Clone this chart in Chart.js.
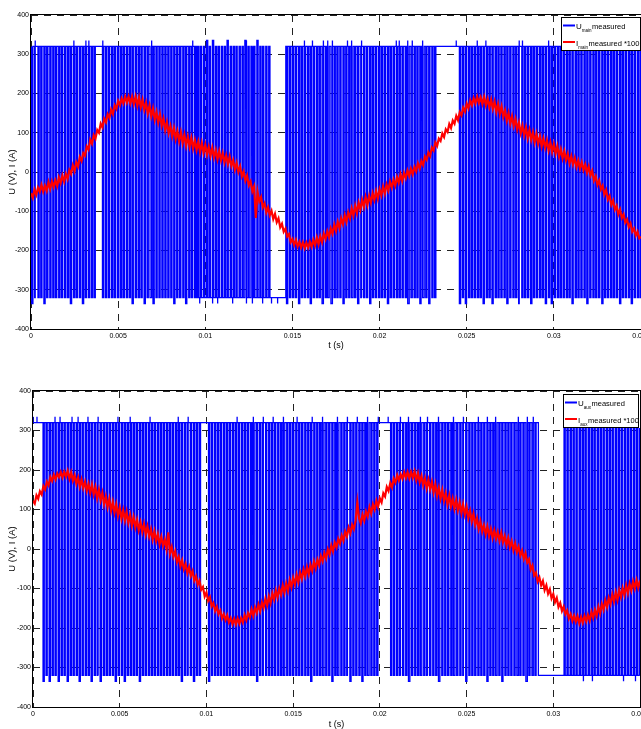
<!DOCTYPE html>
<html>
<head>
<meta charset="utf-8">
<script src="https://cdn.jsdelivr.net/npm/chart.js@4.4.1/dist/chart.umd.min.js"></script>
<style>
  html, body { margin: 0; padding: 0; background: #fff; overflow: hidden; }
  body { width: 641px; height: 729px; position: relative; }
  canvas { position: absolute; left: 0; }
  #mainChart { top: 0; }
  #auxChart { top: 360px; }
</style>
</head>
<body>
<canvas id="mainChart" width="670" height="360"></canvas>
<canvas id="auxChart" width="670" height="380"></canvas>
<script>
// axis ticks
const xTicks = [0, 0.005, 0.01, 0.015, 0.02, 0.025, 0.03, 0.035];
const xTickLabels = ['0', '0.005', '0.01', '0.015', '0.02', '0.025', '0.03', '0.035'];
const yTicks = [-400, -300, -200, -100, 0, 100, 200, 300, 400];
const yTickLabels = ['-400', '-300', '-200', '-100', '0', '100', '200', '300', '400'];

const PULSE_W = 0.07; // ms, width of one switching pulse
const I_STEP = 0.1;   // ms between current samples

// main winding: [start ms, end ms, resting level V, pulse level V]
const mainSegments = [[0, 9.5, 320, -320], [9.5, 14.62, -320, 320], [14.62, 35, 320, -320]];
const mainPulses = [
  0.04, 0.21, 0.40, 0.56, 0.74, 0.90, 1.08, 1.25, 1.41, 1.59, 1.75, 1.93, 2.10, 2.26, 2.44, 2.60, 2.78, 2.95, 3.11, 3.29, 3.46, 3.62,
  4.10, 4.27, 4.44, 4.62, 4.78, 4.96, 5.13, 5.29, 5.47, 5.64, 5.80, 5.98, 6.15, 6.31, 6.49, 6.66, 6.83, 7.00, 7.17, 7.34, 7.51, 7.68,
  7.85, 8.02, 8.19, 8.36, 8.53, 8.71, 8.87, 9.05, 9.21, 9.39, 9.56, 9.72, 9.90, 10.07, 10.23, 10.41, 10.58, 10.74, 10.92, 11.09, 11.25,
  11.43, 11.60, 11.76, 11.94, 12.11, 12.27, 12.45, 12.62, 12.78, 12.96, 13.13, 13.29, 13.47, 13.64,
  14.66, 14.83, 15.00, 15.17, 15.35, 15.51, 15.68, 15.86, 16.02, 16.19, 16.37, 16.53, 16.70, 16.88, 17.04, 17.21, 17.39, 17.55, 17.72,
  17.90, 18.06, 18.23, 18.41, 18.57, 18.74, 18.92, 19.08, 19.25, 19.43, 19.59, 19.76, 19.94, 20.10, 20.27, 20.45, 20.61, 20.78, 20.96,
  21.12, 21.29, 21.47, 21.63, 21.80, 21.98, 22.14, 22.31, 22.49, 22.65, 22.82, 23.00, 23.16,
  24.58, 24.75, 24.92, 25.10, 25.26, 25.43, 25.61, 25.77, 25.94, 26.12, 26.28, 26.45, 26.63, 26.79, 26.96, 27.14, 27.30, 27.47, 27.65,
  27.81, 27.98, 28.16, 28.32, 28.49, 28.67, 28.83, 29.00, 29.18, 29.34, 29.51, 29.69, 29.85, 30.02, 30.20, 30.36, 30.53, 30.71, 30.87,
  31.04, 31.22, 31.38, 31.55, 31.73, 31.89, 32.06, 32.24, 32.40, 32.57, 32.75, 32.91, 33.08, 33.26, 33.42, 33.59, 33.77, 33.93, 34.10,
  34.28, 34.44, 34.61, 34.79, 34.95
];
const mainSpikesUp = [0.23, 2.46, 3.15, 3.32, 4.12, 6.93, 9.28, 10.08, 10.48, 11.28, 12.31, 12.89, 15.69, 16.15, 16.78, 17.01, 17.3,
  18.16, 18.38, 18.96, 20.96, 21.13, 21.6, 21.88, 22.45, 24.4, 25.6, 26.1, 28.0, 28.2, 29.7];
const mainSpikesDown = [0.11, 0.8, 2.23, 2.98, 5.78, 6.41, 6.99, 8.13, 8.93, 9.68, 10.42, 10.71, 11.57, 12.37, 12.71, 13.29, 13.8,
  14.15, 14.66, 15.41, 16.09, 16.72, 17.3, 17.87, 18.67, 19.42, 20.39, 21.59, 22.28, 22.85, 24.57, 24.97, 25.89, 26.46, 27.26, 28.01,
  28.75, 29.55, 29.9, 31.04, 31.84, 32.76, 33.73, 34.48];
// I_main * 100, one value every 0.1 ms from 0 to 35 ms
const mainCurrent = [
  -54, -66, -45, -58, -40, -50, -33, -50, -35, -48, -26, -43, -24, -38, -21, -36, -14, -28, -9, -25,
  -5, -18, 5, -5, 17, 3, 25, 14, 38, 28, 48, 42, 65, 57, 82, 72, 94, 85, 107, 100,
  123, 114, 136, 127, 147, 138, 159, 148, 170, 161, 181, 170, 187, 175, 192, 177, 192, 175, 192, 173,
  192, 169, 190, 165, 184, 158, 176, 149, 169, 142, 162, 133, 153, 126, 147, 118, 136, 107, 127, 99,
  117, 91, 112, 84, 104, 78, 101, 74, 95, 67, 90, 65, 87, 60, 81, 56, 77, 51, 74, 49,
  69, 44, 64, 41, 62, 37, 56, 32, 53, 30, 48, 24, 42, 20, 39, 15, 30, 6, 23, 0,
  14, -11, 1, -22, -9, -34, -24, -49, -37, -117, -51, -75, -64, -90, -80, -103, -90, -110, -99, -120,
  -107, -128, -118, -141, -132, -152, -144, -164, -158, -179, -171, -186, -173, -190, -178, -192, -179, -194, -180, -193,
  -178, -191, -173, -187, -167, -184, -164, -179, -157, -171, -151, -166, -144, -157, -134, -150, -127, -143, -118, -133,
  -110, -127, -103, -118, -93, -111, -86, -105, -78, -96, -71, -89, -64, -84, -61, -78, -54, -71, -49, -68,
  -44, -60, -37, -55, -32, -47, -25, -40, -20, -35, -13, -27, -6, -23, -3, -16, 4, -10, 8, -6,
  13, 2, 22, 9, 28, 18, 39, 31, 50, 41, 62, 55, 75, 66, 85, 79, 98, 89, 109, 102,
  122, 112, 131, 123, 143, 132, 152, 144, 164, 154, 174, 162, 182, 170, 188, 175, 192, 176, 190, 173,
  191, 170, 186, 165, 184, 161, 179, 153, 173, 148, 167, 140, 157, 131, 150, 123, 142, 117, 135, 108,
  126, 99, 118, 93, 113, 86, 107, 82, 101, 75, 97, 72, 91, 65, 85, 62, 81, 55, 75, 51,
  71, 47, 66, 40, 58, 35, 53, 30, 46, 22, 40, 19, 36, 13, 29, 9, 25, 5, 19, -2,
  14, -9, 3, -22, -11, -33, -22, -44, -35, -58, -46, -70, -61, -84, -73, -96, -86, -108, -96, -117,
  -108, -129, -121, -140, -131, -152, -144, -162, -152, -169, -165
];

// auxiliary winding
const auxSegments = [[0, 29.14, 320, -320], [29.14, 35, -320, 305]];
const auxPulses = [
  0.58, 0.75, 0.93, 1.10, 1.27, 1.45, 1.62, 1.79, 1.97, 2.14, 2.31, 2.49, 2.66, 2.83, 3.01, 3.18, 3.35, 3.53, 3.70, 3.87, 4.05, 4.22,
  4.39, 4.57, 4.74, 4.91, 5.09, 5.26, 5.43, 5.61, 5.78, 5.95, 6.13, 6.30, 6.47, 6.65, 6.82, 6.99, 7.17, 7.34, 7.51, 7.69, 7.86, 8.03,
  8.21, 8.38, 8.55, 8.73, 8.90, 9.07, 9.25, 9.42, 9.59,
  10.12, 10.29, 10.47, 10.64, 10.81, 10.99, 11.16, 11.33, 11.51, 11.68, 11.85, 12.03, 12.20, 12.37, 12.55, 12.72, 12.89, 13.07, 13.24,
  13.41, 13.59, 13.76, 13.93, 14.11, 14.28, 14.45, 14.63, 14.80, 14.97, 15.15, 15.32, 15.49, 15.67, 15.84, 16.01, 16.19, 16.36, 16.53,
  16.71, 16.88, 17.05, 17.23, 17.40, 17.57, 17.75, 17.92, 18.09, 18.27, 18.44, 18.61, 18.79, 18.96, 19.13, 19.31, 19.48, 19.65, 19.82,
  20.62, 20.79, 20.97, 21.14, 21.31, 21.49, 21.66, 21.83, 22.01, 22.18, 22.35, 22.53, 22.70, 22.87, 23.05, 23.22, 23.39, 23.57, 23.74,
  23.91, 24.09, 24.26, 24.43, 24.61, 24.78, 24.95, 25.13, 25.30, 25.47, 25.65, 25.82, 25.99, 26.17, 26.34, 26.51, 26.69, 26.86, 27.03,
  27.21, 27.38, 27.55, 27.73, 27.90, 28.07, 28.25, 28.42, 28.59, 28.77, 28.94,
  30.62, 30.79, 30.97, 31.14, 31.31, 31.49, 31.66, 31.83, 32.01, 32.18, 32.35, 32.53, 32.70, 32.87, 33.05, 33.22, 33.39, 33.57, 33.74,
  33.91, 34.09, 34.26, 34.43, 34.61, 34.78, 34.95
];
const auxSpikesUp = [0, 0.23, 1.27, 1.56, 2.25, 2.6, 3.17, 3.75, 4.9, 5.6, 6.75, 8.37, 8.94, 11.77, 12.69, 13.27, 13.85, 14.43,
  15.23, 16.1, 16.68, 17.54, 18.12, 18.7, 19.27, 19.91, 20.48, 21.18, 21.64, 22.33, 22.74, 23.37, 24.23, 24.81, 25.68, 26.2, 26.66,
  27.99, 28.51, 28.85];
const auxSpikesDown = [0.58, 0.98, 1.44, 2.02, 2.71, 3.29, 3.87, 4.73, 5.19, 6.17, 8.48, 9.17, 10.04, 12.93, 16.1, 17.25, 18.29,
  18.98, 21.64, 23.31, 25.04, 26.2, 27.06, 28.5, 31.74, 32.26, 34.05, 34.74];
// I_aux * 100, one value every 0.1 ms from 0 to 35 ms
const auxCurrent = [
  122, 115, 136, 127, 146, 138, 159, 151, 170, 161, 182, 172, 188, 176, 191, 182, 195, 181, 195, 183,
  198, 178, 194, 173, 187, 165, 181, 158, 176, 154, 170, 147, 165, 142, 163, 138, 157, 129, 150, 123,
  142, 113, 133, 106, 127, 97, 119, 92, 113, 84, 105, 77, 98, 72, 94, 66, 86, 59, 81, 55,
  74, 48, 67, 43, 63, 37, 57, 32, 50, 24, 45, 20, 38, 12, 31, 8, 24, 0, 42, -11,
  5, -20, -6, -33, -20, -44, -29, -51, -38, -61, -46, -68, -56, -80, -69, -90, -80, -103, -96, -120,
  -110, -131, -122, -145, -137, -157, -146, -165, -156, -176, -165, -180, -168, -186, -175, -190, -177, -191, -176, -189,
  -175, -186, -167, -180, -162, -173, -153, -169, -148, -162, -141, -157, -135, -149, -126, -143, -120, -137, -112, -128,
  -105, -123, -100, -116, -92, -111, -87, -106, -79, -97, -73, -90, -65, -84, -60, -76, -52, -69, -46, -64,
  -40, -55, -32, -49, -27, -41, -18, -31, -10, -24, -1, -14, 9, -6, 16, 4, 26, 14, 34, 21,
  44, 32, 54, 40, 61, 50, 71, 118, 78, 65, 87, 72, 95, 82, 106, 90, 113, 100, 122, 107,
  128, 118, 141, 133, 157, 147, 167, 156, 178, 168, 187, 174, 189, 178, 194, 180, 195, 179, 195, 180,
  196, 174, 192, 169, 185, 161, 179, 154, 175, 151, 170, 143, 164, 135, 155, 128, 149, 122, 141, 113,
  135, 108, 128, 102, 124, 98, 118, 91, 113, 87, 106, 78, 96, 70, 89, 61, 78, 51, 70, 44,
  60, 37, 57, 33, 51, 28, 47, 26, 43, 21, 41, 17, 33, 10, 28, 5, 20, -3, 14, -8,
  6, -17, -4, -25, -11, -34, -26, -52, -42, -67, -60, -82, -72, -92, -81, -104, -92, -113, -102, -125,
  -114, -135, -124, -147, -137, -157, -146, -165, -156, -176, -165, -182, -169, -184, -170, -188, -172, -187, -169, -183,
  -167, -181, -159, -174, -154, -169, -146, -163, -139, -154, -130, -147, -124, -139, -115, -133, -110, -129, -104, -122,
  -99, -117, -92, -112, -88, -105, -82, -100, -79, -98, -80
];

const SPIKE_HI = 335;
const SPIKE_LO = -335;
const FONT = 'Arial, "Liberation Sans", Helvetica, sans-serif';

// turn segments + pulse times into a step trace (x in seconds)
function buildPwm(segments, pulses, upT, downT) {
  const spikes = upT.map(t => ({ t, v: SPIKE_HI })).concat(downT.map(t => ({ t, v: SPIKE_LO })));
  const pts = [];
  segments.forEach(([s, e, base, lvl]) => {
    const ps = pulses.filter(t => t >= s && t < e).map(t => ({ t, lvl, w: PULSE_W }));
    const extra = [];
    spikes.filter(k => k.t >= s && k.t < e).forEach(k => {
      let near = null;
      ps.forEach(p => {
        if (Math.sign(p.lvl) !== Math.sign(k.v) || Math.abs(p.t - k.t) > 0.1) return;
        if (!near || Math.abs(p.t - k.t) < Math.abs(near.t - k.t)) near = p;
      });
      if (near) near.lvl = k.v;
      else extra.push({ t: k.t, lvl: k.v, w: 0 });
    });
    const ev = ps.concat(extra).sort((a, b) => a.t - b.t);
    pts.push({ x: s, y: base });
    ev.forEach(p => {
      pts.push({ x: p.t, y: base }, { x: p.t, y: p.lvl });
      if (p.w) pts.push({ x: p.t + p.w, y: p.lvl });
      pts.push({ x: p.t + p.w, y: base });
    });
    pts.push({ x: e, y: base });
  });
  return pts.map(p => ({ x: p.x / 1000, y: p.y }));
}

function currentPoints(values) {
  return values.map((v, i) => ({ x: (i * I_STEP) / 1000, y: v }));
}

// MATLAB style box around the axes plus legend with subscripts
const matlabFrame = {
  id: 'matlabFrame',
  afterDraw(chart, args, opts) {
    const { ctx, chartArea: a } = chart;
    ctx.save();
    ctx.strokeStyle = '#000';
    ctx.lineWidth = 1;
    ctx.strokeRect(a.left - 0.5, a.top - 0.5, a.right - a.left + 1, a.bottom - a.top + 1);

    const x0 = a.right - opts.dx, y0 = a.top + opts.dy;
    ctx.fillStyle = '#fff';
    ctx.fillRect(x0, y0, opts.w, opts.h);
    ctx.strokeRect(x0 + 0.5, y0 + 0.5, opts.w, opts.h);
    opts.items.forEach((it, i) => {
      const ly = y0 + 8.5 + i * 16.5;
      ctx.strokeStyle = it.color;
      ctx.lineWidth = 2;
      ctx.beginPath();
      ctx.moveTo(x0 + 2, ly);
      ctx.lineTo(x0 + 14, ly);
      ctx.stroke();
      ctx.fillStyle = '#000';
      ctx.textBaseline = 'alphabetic';
      ctx.font = '8px ' + FONT;
      let tx = x0 + 15;
      ctx.fillText(it.main, tx, ly + 3.5);
      tx += ctx.measureText(it.main).width;
      ctx.font = '4.5px ' + FONT;
      ctx.fillText(it.sub, tx, ly + 6.5);
      tx += ctx.measureText(it.sub).width + 0.5;
      ctx.font = '7.5px ' + FONT;
      ctx.fillText(it.rest, tx, ly + 3.5);
    });
    ctx.restore();
  }
};

function makeChart(id, cfg) {
  return new Chart(document.getElementById(id), {
    type: 'scatter',
    data: {
      datasets: [
        { label: cfg.uLabel, data: cfg.pwm, showLine: true, borderColor: '#0000ff', borderWidth: 1.3,
          pointRadius: 0, order: 2 },
        { label: cfg.iLabel, data: cfg.current, showLine: true, borderColor: '#ff0000', borderWidth: 2.2,
          pointRadius: 0, order: 1 }
      ]
    },
    options: {
      responsive: false,
      animation: false,
      devicePixelRatio: 1,
      layout: { padding: { top: cfg.padTop, right: cfg.padRight, bottom: 0, left: 0 } },
      plugins: {
        legend: { display: false },
        tooltip: { enabled: false },
        matlabFrame: cfg.legend
      },
      scales: {
        x: {
          type: 'linear', min: 0, max: 0.035,
          afterFit: s => { s.height = cfg.xHeight; },
          afterBuildTicks: s => { s.ticks = xTicks.map(v => ({ value: v })); },
          ticks: { autoSkip: false, maxRotation: 0, padding: 3, color: '#000', font: { size: 7, family: FONT },
            callback: (v, i) => xTickLabels[i] },
          grid: { color: '#222', lineWidth: 1, drawTicks: false },
          border: { display: false, dash: [7, 6] },
          title: { display: true, text: 't (s)', color: '#000', font: { size: 9, family: FONT },
            padding: { top: 0, bottom: cfg.xTitlePad } }
        },
        y: {
          type: 'linear', min: -400, max: 400,
          afterFit: s => { s.width = cfg.yWidth; },
          afterBuildTicks: s => { s.ticks = yTicks.map(v => ({ value: v })); },
          ticks: { padding: 2, color: '#000', font: { size: 7, family: FONT },
            callback: (v, i) => yTickLabels[i] },
          grid: { color: '#222', lineWidth: 1, drawTicks: false },
          border: { display: false, dash: [7, 6] },
          title: { display: true, text: 'U (V), I (A)', color: '#000', font: { size: 9.5, family: FONT },
            padding: { top: 7, bottom: 0 } }
        }
      }
    },
    plugins: [matlabFrame]
  });
}

makeChart('mainChart', {
  uLabel: 'U_main measured', iLabel: 'I_main measured *100',
  pwm: buildPwm(mainSegments, mainPulses, mainSpikesUp, mainSpikesDown),
  current: currentPoints(mainCurrent),
  padTop: 15, padRight: 29, xHeight: 31, yWidth: 31, xTitlePad: 8.6,
  legend: { dx: 80, dy: 2, w: 79, h: 33, items: [
    { main: 'U', sub: 'main', rest: 'measured', color: '#0000ff' },
    { main: 'I', sub: 'main', rest: 'measured *100', color: '#ff0000' }
  ] }
});

makeChart('auxChart', {
  uLabel: 'U_aux measured', iLabel: 'I_aux measured *100',
  pwm: buildPwm(auxSegments, auxPulses, auxSpikesUp, auxSpikesDown),
  current: currentPoints(auxCurrent),
  padTop: 31, padRight: 30, xHeight: 33, yWidth: 33, xTitlePad: 9.6,
  legend: { dx: 77, dy: 3, w: 75, h: 33, items: [
    { main: 'U', sub: 'aux', rest: 'measured', color: '#0000ff' },
    { main: 'I', sub: 'aux', rest: 'measured *100', color: '#ff0000' }
  ] }
});
</script>
</body>
</html>
